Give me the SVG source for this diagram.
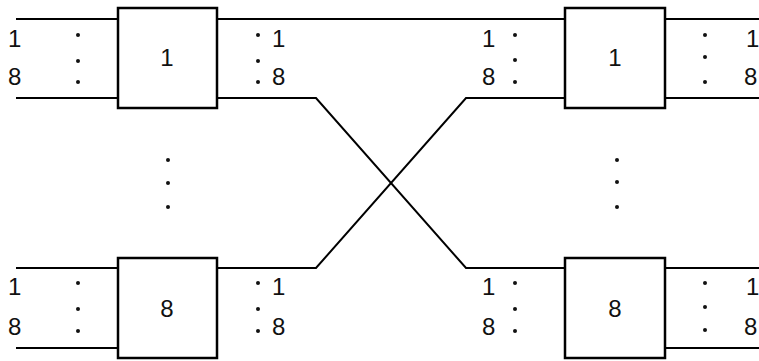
<svg xmlns="http://www.w3.org/2000/svg" width="759" height="361" viewBox="0 0 759 361">
<style>
.ln{stroke:#000;stroke-width:2;fill:none}
.bx{stroke:#000;stroke-width:2.5;fill:#fff}
.t{font-family:"Liberation Sans",Arial,sans-serif;font-size:24px;fill:#111}
.bt{font-family:"Liberation Sans",Arial,sans-serif;font-size:24px;fill:#111;text-anchor:middle}
.d{fill:#111}
</style>
<rect width="759" height="361" fill="#fff"/>
<g id="connectors">
<line class="ln" x1="16" y1="19" x2="118" y2="19"/>
<line class="ln" x1="16" y1="98" x2="118" y2="98"/>
<line class="ln" x1="217" y1="19" x2="565" y2="19"/>
<polyline class="ln" points="217,98 316,98 466,268 565,268"/>
<polyline class="ln" points="217,268 316,268 466,98 565,98"/>
<line class="ln" x1="665" y1="19" x2="759" y2="19"/>
<line class="ln" x1="665" y1="98" x2="759" y2="98"/>
<line class="ln" x1="16" y1="268" x2="118" y2="268"/>
<line class="ln" x1="16" y1="348" x2="118" y2="348"/>
<line class="ln" x1="665" y1="268" x2="759" y2="268"/>
<line class="ln" x1="665" y1="348" x2="759" y2="348"/>
</g>
<g id="node-tl">
<rect class="bx" x="118" y="8" width="99" height="100"/>
<text class="bt" x="167" y="66">1</text>
</g>
<g id="node-tr">
<rect class="bx" x="565" y="8" width="100" height="100"/>
<text class="bt" x="615" y="66">1</text>
</g>
<g id="node-bl">
<rect class="bx" x="118" y="258" width="99" height="100"/>
<text class="bt" x="167" y="317">8</text>
</g>
<g id="node-br">
<rect class="bx" x="565" y="258" width="100" height="100"/>
<text class="bt" x="615" y="317">8</text>
</g>
<g id="labels">
<text class="t" x="8" y="47">1</text>
<text class="t" x="8" y="85">8</text>
<text class="t" x="272" y="47">1</text>
<text class="t" x="272" y="85">8</text>
<text class="t" x="482" y="47">1</text>
<text class="t" x="482" y="85">8</text>
<text class="t" x="746" y="47">1</text>
<text class="t" x="744" y="85">8</text>
<text class="t" x="8" y="295">1</text>
<text class="t" x="8" y="335">8</text>
<text class="t" x="272" y="295">1</text>
<text class="t" x="272" y="335">8</text>
<text class="t" x="482" y="295">1</text>
<text class="t" x="482" y="335">8</text>
<text class="t" x="746" y="295">1</text>
<text class="t" x="744" y="335">8</text>
</g>
<g id="dots">
<circle class="d" cx="78" cy="35" r="2"/><circle class="d" cx="78" cy="61" r="2"/><circle class="d" cx="78" cy="82" r="2"/>
<circle class="d" cx="258" cy="35" r="2"/><circle class="d" cx="258" cy="61" r="2"/><circle class="d" cx="258" cy="82" r="2"/>
<circle class="d" cx="515" cy="35" r="2"/><circle class="d" cx="515" cy="60" r="2"/><circle class="d" cx="515" cy="82" r="2"/>
<circle class="d" cx="705" cy="35" r="2"/><circle class="d" cx="705" cy="57" r="2"/><circle class="d" cx="705" cy="82" r="2"/>
<circle class="d" cx="78" cy="283" r="2"/><circle class="d" cx="78" cy="309" r="2"/><circle class="d" cx="78" cy="331" r="2"/>
<circle class="d" cx="258" cy="283" r="2"/><circle class="d" cx="258" cy="309" r="2"/><circle class="d" cx="258" cy="331" r="2"/>
<circle class="d" cx="515" cy="283" r="2"/><circle class="d" cx="515" cy="309" r="2"/><circle class="d" cx="515" cy="331" r="2"/>
<circle class="d" cx="705" cy="283" r="2"/><circle class="d" cx="705" cy="307" r="2"/><circle class="d" cx="705" cy="330" r="2"/>
<circle class="d" cx="168" cy="160" r="2"/><circle class="d" cx="168" cy="183" r="2"/><circle class="d" cx="168" cy="207" r="2"/>
<circle class="d" cx="617" cy="160" r="2"/><circle class="d" cx="617" cy="182" r="2"/><circle class="d" cx="617" cy="207" r="2"/>
</g>
</svg>
